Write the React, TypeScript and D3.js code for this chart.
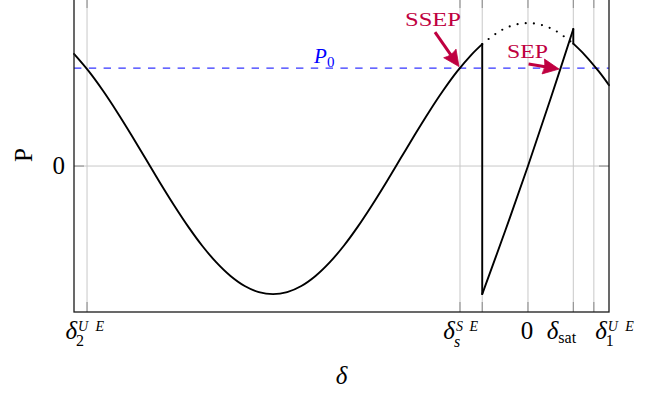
import React from "react";
import * as d3 from "d3";

// Power–angle characteristic: load angle δ (degrees) against electrical power P (p.u.)
const mainCurve: [number, number][] = [
  [-320.5, 0.827], [-310, 0.698], [-300, 0.555], [-290, 0.397], [-280, 0.229],
  [-270, 0.055], [-260, -0.119], [-250, -0.287], [-240, -0.445], [-230, -0.588],
  [-220, -0.711], [-210, -0.811], [-200, -0.885], [-190, -0.93], [-180, -0.945],
  [-170, -0.93], [-160, -0.885], [-150, -0.811], [-140, -0.711], [-130, -0.588],
  [-120, -0.445], [-110, -0.287], [-100, -0.119], [-90, 0.055], [-80, 0.229],
  [-70, 0.397], [-60, 0.555], [-50, 0.698], [-40, 0.821], [-32.3, 0.9],
];
// Saturated branch between the jump and δ_sat
const sepCurve: [number, number][] = [
  [-32.3, -0.945], [-16, -0.476], [0, 0], [16, 0.498], [32, 1.011],
];
// Unconstrained characteristic (dotted) over the saturated span
const dottedCurve: [number, number][] = [
  [-32.3, 0.9], [-20, 0.995], [-10, 1.04], [0, 1.055], [10, 1.04], [20, 0.995], [32, 0.903],
];
const tailCurve: [number, number][] = [
  [32, 0.903], [40, 0.821], [50, 0.698], [57.2, 0.597],
];

const jumpAngle = -32.3;
const satAngle = 32;
const P0 = 0.723;
const ssepAngle = -48;
const sepAngle = 23;

const xTicks = [-311.3, -48, -32.3, 0, 32, 46.5];
const yTicks = [0];

const W = 654;
const H = 396;
const left = 74;
const right = 609;
const top = -2;
const bottom = 312;

const FONT = "'Liberation Serif', 'DejaVu Serif', serif";
const RED = "#bf0040";
const BLUE = "#0000ff";

export default function App() {
  const x = d3.scaleLinear().domain([-320.5, 57.2]).range([left, right]);
  const y = d3.scaleLinear().domain([-1.077, 1.24]).range([bottom, top]);

  const smooth = d3
    .line<[number, number]>()
    .x((d) => x(d[0]))
    .y((d) => y(d[1]))
    .curve(d3.curveCatmullRom.alpha(0.5));
  const straight = d3
    .line<[number, number]>()
    .x((d) => x(d[0]))
    .y((d) => y(d[1]));

  const jumpDown: [number, number][] = [
    [jumpAngle, mainCurve[mainCurve.length - 1][1]],
    [jumpAngle, sepCurve[0][1]],
  ];
  const satDrop: [number, number][] = [
    [satAngle, sepCurve[sepCurve.length - 1][1]],
    [satAngle, tailCurve[0][1]],
  ];

  const arrow = (tx: number, ty: number, sx: number, sy: number) => {
    const dx = tx - sx;
    const dy = ty - sy;
    const len = Math.hypot(dx, dy);
    const ux = dx / len;
    const uy = dy / len;
    const hl = 16;
    const hw = 7.5;
    const bx = tx - ux * hl;
    const by = ty - uy * hl;
    const head = `M${tx},${ty} L${bx - uy * hw},${by + ux * hw} Q${bx + ux * 3},${by + uy * 3} ${bx + uy * hw},${by - ux * hw} Z`;
    return (
      <g>
        <line x1={sx} y1={sy} x2={bx + ux * 2} y2={by + uy * 2} stroke={RED} strokeWidth={3} />
        <path d={head} fill={RED} stroke={RED} strokeWidth={0.8} strokeLinejoin="miter" />
      </g>
    );
  };

  const ssepX = x(ssepAngle);
  const sepX = x(sepAngle);
  const p0Y = y(P0);

  const tickLabel = (
    t: number,
    dOff: number,
    sup: string | null,
    sub: string,
    subUpright: boolean,
    supLen: number,
    subBase: number
  ) => {
    const tx = x(t);
    return (
      <g key={t} fontFamily={FONT}>
        <text x={tx + dOff} y={339} fontSize={25} fontStyle="italic" textAnchor="end">
          δ
        </text>
        {sup && (
          <text
            x={tx + dOff + 1}
            y={331}
            fontSize={14}
            fontStyle="italic"
            textLength={supLen}
            lengthAdjust="spacing"
          >
            {sup}
          </text>
        )}
        <text
          x={tx + dOff + (sup ? -1 : 0)}
          y={subBase}
          fontSize={16}
          fontStyle={subUpright ? "normal" : "italic"}
        >
          {sub}
        </text>
      </g>
    );
  };

  return (
    <svg
      width={W}
      height={H}
      style={{ position: "absolute", left: 0, top: 0, background: "#fff" }}
    >
      {/* grid */}
      <g stroke="#c8c8c8" strokeWidth={1}>
        {xTicks.map((t) => (
          <line key={t} x1={x(t)} x2={x(t)} y1={top} y2={bottom} />
        ))}
        {yTicks.map((t) => (
          <line key={t} x1={left} x2={right} y1={y(t)} y2={y(t)} />
        ))}
      </g>
      {/* tick marks */}
      <g stroke="#8a8a8a" strokeWidth={1}>
        {xTicks.map((t) => (
          <g key={t}>
            <line x1={x(t)} x2={x(t)} y1={bottom} y2={bottom - 10} />
            <line x1={x(t)} x2={x(t)} y1={top} y2={top + 10} />
          </g>
        ))}
        {yTicks.map((t) => (
          <g key={t}>
            <line x1={left} x2={left + 10} y1={y(t)} y2={y(t)} />
            <line x1={right} x2={right - 10} y1={y(t)} y2={y(t)} />
          </g>
        ))}
      </g>

      {/* P0 reference */}
      <line
        x1={left}
        x2={right}
        y1={p0Y}
        y2={p0Y}
        stroke={BLUE}
        strokeOpacity={0.8}
        strokeWidth={1.3}
        strokeDasharray="7.4 7.4"
      />
      <g fill={BLUE} fontFamily={FONT}>
        <text x={x(-151)} y={p0Y - 5} fontSize={21} fontStyle="italic">
          P
        </text>
        <text x={x(-151) + 13} y={p0Y - 1} fontSize={15}>
          0
        </text>
      </g>

      {/* curves */}
      <path d={smooth(dottedCurve) ?? ""} fill="none" stroke="#000" strokeWidth={2.2} strokeDasharray="0 8.2" strokeLinecap="round" />
      <g fill="none" stroke="#000" strokeWidth={1.9} strokeLinecap="round" strokeLinejoin="round">
        <path d={smooth(mainCurve) ?? ""} />
        <path d={straight(jumpDown) ?? ""} />
        <path d={smooth(sepCurve) ?? ""} />
        <path d={straight(satDrop) ?? ""} />
        <path d={smooth(tailCurve) ?? ""} />
      </g>

      {/* frame */}
      <rect x={left} y={top} width={right - left} height={bottom - top} fill="none" stroke="#1a1a1a" strokeWidth={1.3} />

      {/* annotations */}
      <g fill={RED} fontFamily={FONT}>
        <text x={405} y={26} fontSize={18} textLength={56} lengthAdjust="spacingAndGlyphs">
          SSEP
        </text>
        <text x={507} y={58} fontSize={18} textLength={41} lengthAdjust="spacingAndGlyphs">
          SEP
        </text>
      </g>
      {arrow(ssepX - 1, p0Y - 1.5, ssepX - 25, p0Y - 36)}
      {arrow(sepX - 1.5, p0Y + 1, sepX - 32, p0Y - 4)}

      {/* tick labels */}
      {tickLabel(xTicks[0], -10, "UE", "2", true, 26, 346)}
      {tickLabel(xTicks[1], -5, "SE", "s", false, 22, 347)}
      <text x={x(0) - 1} y={339} fontSize={25} fontFamily={FONT} textAnchor="middle">
        0
      </text>
      {tickLabel(xTicks[4], -15, null, "sat", true, 0, 343)}
      {tickLabel(xTicks[5], 13, "UE", "1", true, 26, 346)}
      <text x={left - 9} y={y(0) + 8} fontSize={25} fontFamily={FONT} textAnchor="end">
        0
      </text>

      {/* axis titles */}
      <text x={(left + right) / 2} y={384} fontSize={25} fontFamily={FONT} fontStyle="italic" textAnchor="middle">
        δ
      </text>
      <text
        transform={`translate(32,${(top + bottom) / 2}) rotate(-90)`}
        fontSize={25}
        fontFamily={FONT}
        textAnchor="middle"
      >
        P
      </text>
    </svg>
  );
}
